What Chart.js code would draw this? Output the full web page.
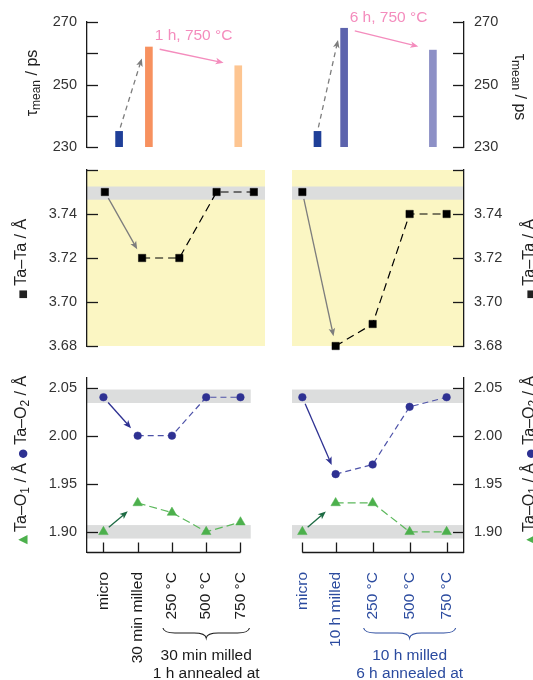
<!DOCTYPE html>
<html>
<head>
<meta charset="utf-8">
<script src="https://cdn.jsdelivr.net/npm/chart.js@4.4.1/dist/chart.umd.min.js"></script>
<style>
  body { margin: 0; background: #fff; }
  #wrap { position: relative; width: 533px; height: 680px; overflow: hidden; font-family: "Liberation Sans", Arial, sans-serif; }
  canvas { position: absolute; }
  .ttl { position: absolute; white-space: nowrap; font-size: 16px; line-height: 1; color: #222; }
  .ttl sub { font-size: 12px; vertical-align: -3px; line-height: 0; }
  .L { transform: translate(-50%, -50%) rotate(-90deg); }
  .R { transform: translate(-50%, -50%) rotate(90deg); }
  .mk { font-family: "DejaVu Sans", sans-serif; }
</style>
</head>
<body>
<div id="wrap">
  <canvas id="tauL" width="280" height="167" style="left:0;top:0"></canvas>
  <canvas id="tauR" width="253" height="167" style="left:280px;top:0"></canvas>
  <canvas id="tataL" width="280" height="216" style="left:0;top:150px"></canvas>
  <canvas id="tataR" width="253" height="216" style="left:280px;top:150px"></canvas>
  <canvas id="taoL" width="280" height="324" style="left:0;top:356px"></canvas>
  <canvas id="taoR" width="253" height="324" style="left:280px;top:356px"></canvas>

  <div class="ttl L" style="left:32px;top:83px">τ<sub>mean</sub> / ps</div>
  <div class="ttl R" style="left:520px;top:87px">τ<sub>mean</sub> / ps</div>
  <div class="ttl L" style="left:21px;top:259px"><span class="mk" style="font-size:10px;margin-right:4px">■</span>Ta–Ta / Å</div>
  <div class="ttl L" style="left:529px;top:259px"><span class="mk" style="font-size:10px;margin-right:4px">■</span>Ta–Ta / Å</div>
  <div class="ttl L" style="left:21px;top:460px"><span class="mk" style="font-size:12px;color:#4cb04c;margin-right:3px">▲</span>Ta–O<sub>1</sub> / Å <span class="mk" style="font-size:11px;color:#2e3192">●</span> Ta–O<sub>2</sub> / Å</div>
  <div class="ttl L" style="left:529px;top:460px"><span class="mk" style="font-size:12px;color:#4cb04c;margin-right:3px">▲</span>Ta–O<sub>1</sub> / Å <span class="mk" style="font-size:11px;color:#2e3192">●</span> Ta–O<sub>2</sub> / Å</div>
</div>

<script>
'use strict';

// ─── Data ─────────────────────────────────────────────────────────────────────
const stagesLeft = ['micro', '30 min milled', '250 °C', '500 °C', '750 °C'];
const stagesRight = ['micro', '10 h milled', '250 °C', '500 °C', '750 °C'];
const posLeft = [0, 1, 2, 3, 4];
const posRight = [0.1, 1, 2, 3, 4];

const tauLeft = [235, 262, null, null, 256];
const tauRight = [235, 268, null, null, 261];
const tataLeft = [3.75, 3.72, 3.72, 3.75, 3.75];
const tataRight = [3.75, 3.68, 3.69, 3.74, 3.74];
const tao2Left = [2.04, 2.00, 2.00, 2.04, 2.04];
const tao2Right = [2.04, 1.96, 1.97, 2.03, 2.04];
const tao1Left = [1.90, 1.93, 1.92, 1.90, 1.91];
const tao1Right = [1.90, 1.93, 1.93, 1.90, 1.90];

const tauTicks = [230, 240, 250, 260, 270];
const tauTickLabels = ['230', '', '250', '', '270'];
const tataTicks = [3.68, 3.70, 3.72, 3.74, 3.76];
const tataTickLabels = ['3.68', '3.70', '3.72', '3.74', ''];
const taoTicks = [1.90, 1.95, 2.00, 2.05];
const taoTickLabels = ['1.90', '1.95', '2.00', '2.05'];

const tataBand = [3.7465, 3.7525];
const tao2Band = [2.034, 2.048];
const tao1Band = [1.893, 1.907];

const annealLeft = '1 h, 750 °C';
const annealRight = '6 h, 750 °C';
const groupLeft = ['30 min milled', '1 h annealed at'];
const groupRight = ['10 h milled', '6 h annealed at'];

// ─── Styles ───────────────────────────────────────────────────────────────────
const FONT = '"Liberation Sans", Arial, sans-serif';
const AXIS = '#1a1a1a';
const BAND = '#dcdddd';
const YELLOW = '#fbf6c3';
const GREY = '#7d7d7d';
const PINK = '#f48cbd';
const BLUE_TXT = '#2b4b9f';
const BLUE = '#2e3192';
const BLUE_DASH = '#4d52a8';
const GREEN = '#4cb04c';
const GREEN_DASH = '#5cb85c';
const GREEN_ARROW = '#1d6b43';
const BARS_L = ['#1f3f98', '#f7915f', null, null, '#fdc591'];
const BARS_R = ['#1f3f98', '#5c63ad', null, null, '#8d90c6'];

const pts = (xs, ys) => xs.map((x, i) => ({ x, y: ys[i] }));

// ─── Drawing helpers ──────────────────────────────────────────────────────────
function line(ctx, x0, y0, x1, y1) {
  ctx.beginPath(); ctx.moveTo(x0, y0); ctx.lineTo(x1, y1); ctx.stroke();
}

function drawArrow(ctx, x0, y0, x1, y1, o) {
  const len = Math.hypot(x1 - x0, y1 - y0);
  const ux = (x1 - x0) / len, uy = (y1 - y0) / len;
  const sx = x0 + ux * o.s0, sy = y0 + uy * o.s0;
  const ex = x1 - ux * o.s1, ey = y1 - uy * o.s1;
  const hl = 8, hw = 3.3;
  ctx.save();
  ctx.strokeStyle = o.color; ctx.fillStyle = o.color; ctx.lineWidth = 1.3;
  ctx.setLineDash(o.dash || []);
  line(ctx, sx, sy, ex - ux * hl * 0.7, ey - uy * hl * 0.7);
  ctx.setLineDash([]);
  ctx.beginPath();
  ctx.moveTo(ex, ey);
  ctx.lineTo(ex - ux * hl - uy * hw, ey - uy * hl + ux * hw);
  ctx.lineTo(ex - ux * hl * 0.75, ey - uy * hl * 0.75);
  ctx.lineTo(ex - ux * hl + uy * hw, ey - uy * hl - ux * hw);
  ctx.closePath();
  ctx.fill();
  ctx.restore();
}

function drawBrace(ctx, x1, x2, y, h) {
  const xm = (x1 + x2) / 2, r = 6;
  ctx.beginPath();
  ctx.moveTo(x1, y);
  ctx.quadraticCurveTo(x1 + 1, y + h / 2, x1 + r * 2, y + h / 2);
  ctx.lineTo(xm - r * 2, y + h / 2);
  ctx.quadraticCurveTo(xm - 1, y + h / 2, xm, y + h);
  ctx.quadraticCurveTo(xm + 1, y + h / 2, xm + r * 2, y + h / 2);
  ctx.lineTo(x2 - r * 2, y + h / 2);
  ctx.quadraticCurveTo(x2 - 1, y + h / 2, x2, y);
  ctx.stroke();
}

// ─── Panel decorations (background, bands, inward ticks, arrows, notes) ───────
const decoPlugin = {
  id: 'deco',
  beforeDraw(chart, args, o) {
    const { ctx, chartArea: a, scales: { y } } = chart;
    ctx.save();
    if (o.fill) {
      ctx.fillStyle = o.fill;
      ctx.fillRect(a.left, a.top, a.right - a.left, a.bottom - a.top);
    }
    (o.bands || []).forEach(b => {
      const top = y.getPixelForValue(b[1]), bot = y.getPixelForValue(b[0]);
      ctx.fillStyle = BAND;
      ctx.fillRect(a.left, top, a.right - a.left, bot - top);
    });
    ctx.restore();
  },
  afterDraw(chart, args, o) {
    const { ctx, chartArea: a, scales: { x, y } } = chart;
    const left = o.side === 'left';
    ctx.save();
    ctx.strokeStyle = AXIS; ctx.lineWidth = 1.3;

    // y ticks pointing into the plot
    const ax = left ? a.left : a.right, dir = left ? 1 : -1;
    y.ticks.forEach(t => {
      const py = Math.round(y.getPixelForValue(t.value)) + 0.5;
      line(ctx, ax, py, ax + dir * 11, py);
    });

    // x axis with upward ticks (bottom panels only)
    if (o.pos) {
      const by = Math.round(a.bottom) + 0.5;
      const x0 = left ? a.left : x.getPixelForValue(o.pos[0]);
      const x1 = left ? x.getPixelForValue(o.pos[o.pos.length - 1]) : a.right;
      line(ctx, x0, by, x1, by);
      o.pos.forEach(v => {
        const px = Math.round(x.getPixelForValue(v)) + 0.5;
        line(ctx, px, by, px, by - 10);
      });
    }

    (o.arrows || []).forEach(ar => {
      drawArrow(ctx,
        x.getPixelForValue(ar.p0[0]), y.getPixelForValue(ar.p0[1]),
        x.getPixelForValue(ar.p1[0]) + (ar.dx1 || 0), y.getPixelForValue(ar.p1[1]), ar);
    });

    if (o.note) {
      const n = o.note;
      const px = (x.getPixelForValue(n.p0[0]) + x.getPixelForValue(n.p1[0])) / 2;
      const py = (y.getPixelForValue(n.p0[1]) + y.getPixelForValue(n.p1[1])) / 2 - 21;
      ctx.fillStyle = PINK;
      ctx.font = `15.5px ${FONT}`;
      ctx.textAlign = 'center'; ctx.textBaseline = 'middle';
      ctx.fillText(n.text, px, py);
    }

    if (o.group) {
      const g = o.group;
      const x1 = x.getPixelForValue(g.from) - 9, x2 = x.getPixelForValue(g.to) + 9;
      ctx.strokeStyle = g.color; ctx.lineWidth = 1.1;
      drawBrace(ctx, x1, x2, a.bottom + 76, 10);
      ctx.fillStyle = g.color;
      ctx.font = `15.5px ${FONT}`;
      ctx.textAlign = 'center'; ctx.textBaseline = 'middle';
      g.lines.forEach((t, i) => ctx.fillText(t, (x1 + x2) / 2, a.bottom + 104 + i * 18));
    }
    ctx.restore();
  },
};

// ─── Scales ───────────────────────────────────────────────────────────────────
function yAxis(side, ticks, labels, min, max) {
  return {
    type: 'linear', position: side, min, max, bounds: 'data',
    grid: { display: false, drawTicks: false },
    border: { display: true, color: AXIS, width: 1.3 },
    ticks: {
      autoSkip: false, padding: 10, color: '#333',
      font: { family: FONT, size: 14.5 },
      callback: (v, i) => labels[i],
    },
    afterBuildTicks: s => { s.ticks = ticks.map(v => ({ value: v })); },
    afterFit: s => { s.width = side === 'left' ? 87 : 69; },
  };
}

function xAxis(side, pos, labels, show, color) {
  const left = side === 'left';
  return {
    type: 'linear', bounds: 'data',
    min: left ? -0.48 : -0.18, max: left ? 4.3 : 4.47,
    display: show,
    grid: { display: false, drawTicks: false },
    border: { display: false },
    ticks: {
      autoSkip: false, minRotation: 90, maxRotation: 90, padding: 20, color,
      font: { family: FONT, size: 15.5 },
      callback: (v, i) => labels[i],
    },
    afterBuildTicks: s => { s.ticks = pos.map(v => ({ value: v })); },
    afterFit: s => { s.height = show ? 128 : 0; },
  };
}

function panel(id, type, datasets, side, padding, x, y, deco) {
  return new Chart(document.getElementById(id), {
    type,
    data: { datasets },
    options: {
      responsive: false, animation: false, devicePixelRatio: 1,
      layout: { padding },
      plugins: { legend: { display: false }, tooltip: { enabled: false }, deco: Object.assign({ side }, deco) },
      scales: { x, y },
    },
    plugins: [decoPlugin],
  });
}

function seriesSet(pos, vals, style, color, lineColor, radius, dash) {
  return {
    data: pts(pos, vals), clip: false,
    showLine: true, borderColor: lineColor, borderWidth: 1.2, borderDash: dash,
    segment: { borderColor: c => (c.p0DataIndex === 0 ? 'rgba(0,0,0,0)' : lineColor) },
    pointStyle: style, pointRadius: radius, pointBackgroundColor: color,
    pointBorderColor: color, pointBorderWidth: 0.5,
  };
}

// ─── τ_mean bars ──────────────────────────────────────────────────────────────
panel('tauL', 'bar',
  [{ data: pts(posLeft, tauLeft), backgroundColor: BARS_L, base: tauTicks[0], barThickness: 7 }],
  'left', { top: 22, bottom: 20, right: 15 },
  xAxis('left', posLeft, stagesLeft, false), yAxis('left', tauTicks, tauTickLabels, 230, 270),
  {
    arrows: [
      { p0: [posLeft[0], tauLeft[0]], p1: [posLeft[1], tauLeft[1]], dx1: -3.5, s0: 4, s1: 12, color: GREY, dash: [5, 4] },
      { p0: [posLeft[1], tauLeft[1]], p1: [posLeft[4], tauLeft[4]], s0: 11, s1: 15, color: PINK },
    ],
    note: { text: annealLeft, p0: [posLeft[1], tauLeft[1]], p1: [posLeft[4], tauLeft[4]] },
  });

panel('tauR', 'bar',
  [{ data: pts(posRight, tauRight), backgroundColor: BARS_R, base: tauTicks[0], barThickness: 7 }],
  'right', { top: 22, bottom: 20, left: 12 },
  xAxis('right', posRight, stagesRight, false), yAxis('right', tauTicks, tauTickLabels, 230, 270),
  {
    arrows: [
      { p0: [posRight[0], tauRight[0]], p1: [posRight[1], tauRight[1]], dx1: -3.5, s0: 4, s1: 12, color: GREY, dash: [5, 4] },
      { p0: [posRight[1], tauRight[1]], p1: [posRight[4], tauRight[4]], s0: 11, s1: 15, color: PINK },
    ],
    note: { text: annealRight, p0: [posRight[1], tauRight[1]], p1: [posRight[4], tauRight[4]] },
  });

// ─── Ta–Ta ────────────────────────────────────────────────────────────────────
panel('tataL', 'scatter',
  [seriesSet(posLeft, tataLeft, 'rect', '#000', '#000', 5.2, [8, 5])],
  'left', { top: 20, bottom: 20, right: 15 },
  xAxis('left', posLeft, stagesLeft, false), yAxis('left', tataTicks, tataTickLabels, 3.68, 3.76),
  {
    fill: YELLOW, bands: [tataBand],
    arrows: [{ p0: [posLeft[0], tataLeft[0]], p1: [posLeft[1], tataLeft[1]], s0: 7, s1: 10, color: GREY }],
  });

panel('tataR', 'scatter',
  [seriesSet(posRight, tataRight, 'rect', '#000', '#000', 5.2, [8, 5])],
  'right', { top: 20, bottom: 20, left: 12 },
  xAxis('right', posRight, stagesRight, false), yAxis('right', tataTicks, tataTickLabels, 3.68, 3.76),
  {
    fill: YELLOW, bands: [tataBand],
    arrows: [{ p0: [posRight[0], tataRight[0]], p1: [posRight[1], tataRight[1]], s0: 7, s1: 10, color: GREY }],
  });

// ─── Ta–O1 / Ta–O2 ────────────────────────────────────────────────────────────
panel('taoL', 'scatter',
  [
    seriesSet(posLeft, tao2Left, 'circle', BLUE, BLUE_DASH, 3.8, [6, 4]),
    seriesSet(posLeft, tao1Left, 'triangle', GREEN, GREEN_DASH, 5.5, [8, 4]),
  ],
  'left', { top: 22, bottom: 0, right: 15 },
  xAxis('left', posLeft, stagesLeft, true, '#1a1a1a'), yAxis('left', taoTicks, taoTickLabels, 1.879, 2.06),
  {
    bands: [tao2Band, tao1Band], pos: posLeft,
    arrows: [
      { p0: [posLeft[0], tao2Left[0]], p1: [posLeft[1], tao2Left[1]], s0: 7, s1: 10, color: BLUE },
      { p0: [posLeft[0], tao1Left[0]], p1: [posLeft[1], tao1Left[1]], s0: 7, s1: 13, color: GREEN_ARROW },
    ],
    group: { from: posLeft[2], to: posLeft[4], lines: groupLeft, color: '#1a1a1a' },
  });

panel('taoR', 'scatter',
  [
    seriesSet(posRight, tao2Right, 'circle', BLUE, BLUE_DASH, 3.8, [6, 4]),
    seriesSet(posRight, tao1Right, 'triangle', GREEN, GREEN_DASH, 5.5, [8, 4]),
  ],
  'right', { top: 22, bottom: 0, left: 12 },
  xAxis('right', posRight, stagesRight, true, BLUE_TXT), yAxis('right', taoTicks, taoTickLabels, 1.879, 2.06),
  {
    bands: [tao2Band, tao1Band], pos: posRight,
    arrows: [
      { p0: [posRight[0], tao2Right[0]], p1: [posRight[1], tao2Right[1]], s0: 7, s1: 10, color: BLUE },
      { p0: [posRight[0], tao1Right[0]], p1: [posRight[1], tao1Right[1]], s0: 7, s1: 13, color: GREEN_ARROW },
    ],
    group: { from: posRight[2], to: posRight[4], lines: groupRight, color: BLUE_TXT },
  });
</script>
</body>
</html>
